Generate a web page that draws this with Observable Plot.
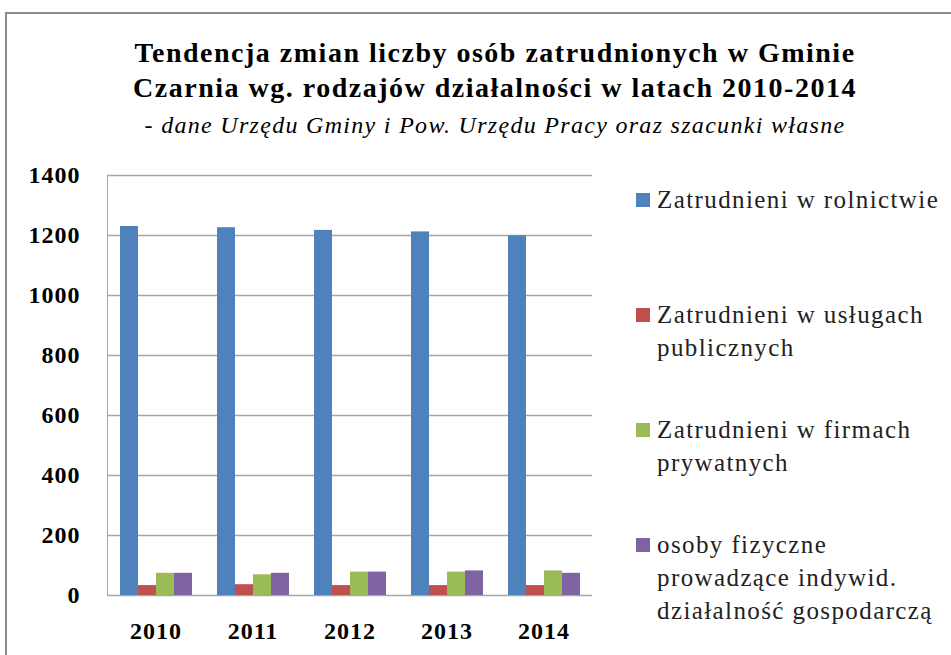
<!DOCTYPE html>
<html>
<head>
<meta charset="utf-8">
<script src="https://cdn.jsdelivr.net/npm/d3@7"></script>
<script src="https://cdn.jsdelivr.net/npm/@observablehq/plot@0.6"></script>
<style>
  html, body { margin: 0; padding: 0; background: #fff; overflow: hidden; }
  #root { position: relative; width: 951px; height: 655px; overflow: hidden; font-family: 'Liberation Serif', serif; }
  #border { position: absolute; left: 5px; top: 12px; width: 1100px; height: 800px; border: 2px solid #8c8c8c; box-sizing: border-box; }
  #title { position: absolute; left: 0; top: 35px; width: 990px; text-align: center; font-weight: bold; font-size: 28px; letter-spacing: 1.5px; line-height: 35px; color: #000; }
  #subtitle { position: absolute; left: 0; top: 112px; width: 990px; text-align: center; font-size: 24px; letter-spacing: 1.3px; color: #000; }
  #subtitle i { font-style: italic; }
  #chart { position: absolute; left: 0; top: 160px; color: #a6a6a6; }
  #chart svg text { fill: #000; font-family: 'Liberation Serif', serif; font-weight: bold; font-size: 24px; letter-spacing: 1px; }
  #legend { position: absolute; left: 636px; top: 0; font-size: 25px; letter-spacing: 1.4px; color: #222; }
  .item { position: absolute; left: 0; white-space: nowrap; line-height: 33px; }
  .sw { position: absolute; left: 0; top: 10px; width: 14px; height: 14px; }
  .lab { position: absolute; left: 21px; top: 0; }
</style>
</head>
<body>
<div id="root">
  <div id="border"></div>
  <div id="title"></div>
  <div id="subtitle"></div>
  <div id="chart"></div>
  <div id="legend"></div>
</div>
<script>
const titleLines = ["Tendencja zmian liczby osób zatrudnionych w Gminie", "Czarnia wg. rodzajów działalności w latach 2010-2014"];
const subtitleText = "dane Urzędu Gminy i Pow. Urzędu Pracy oraz szacunki własne";
const years = ["2010", "2011", "2012", "2013", "2014"];
const series = [
  "Zatrudnieni w rolnictwie",
  "Zatrudnieni w usługach publicznych",
  "Zatrudnieni w firmach prywatnych",
  "osoby fizyczne prowadzące indywid. działalność gospodarczą"
];
const legendLines = [
  ["Zatrudnieni w rolnictwie"],
  ["Zatrudnieni w usługach", "publicznych"],
  ["Zatrudnieni w firmach", "prywatnych"],
  ["osoby fizyczne", "prowadzące indywid.", "działalność gospodarczą"]
];
const colors = ["#4F81BD", "#C0504D", "#9BBB59", "#8064A2"];
const rolnictwo = [1230, 1226, 1217, 1212, 1199];
const uslugi = [33, 36, 33, 33, 33];
const firmy = [74, 69, 78, 78, 82];
const osoby = [74, 74, 78, 82, 74];
const yTicks = [0, 200, 400, 600, 800, 1000, 1200, 1400];

const values = [rolnictwo, uslugi, firmy, osoby];
const data = [];
years.forEach((y, i) => series.forEach((s, j) => data.push({year: y, series: s, value: values[j][i]})));

document.getElementById("title").innerHTML = titleLines.join("<br>");
document.getElementById("subtitle").innerHTML = "- <i>" + subtitleText + "</i>";

const chart = Plot.plot({
  width: 600,
  height: 495,
  marginLeft: 105,
  marginRight: 7,
  marginTop: 15,
  marginBottom: 60,
  style: {background: "transparent", overflow: "visible"},
  fx: {domain: years, padding: 0, label: null, axis: "bottom", tickSize: 0, tickPadding: 26},
  x: {domain: series, axis: null, paddingInner: 0, paddingOuter: 0.6},
  y: {domain: [0, 1400], ticks: yTicks, tickSize: 0, tickPadding: 27, label: null, line: true, tickFormat: d => String(d)},
  color: {domain: series, range: colors},
  marks: [
    Plot.ruleY(yTicks, {stroke: "#a6a6a6", strokeWidth: 1.3}),
    Plot.barY(data, {fx: "year", x: "series", y: "value", fill: "series"})
  ]
});
document.getElementById("chart").appendChild(chart);

const legend = document.getElementById("legend");
const tops = [183, 298, 413, 528];
legendLines.forEach((lines, i) => {
  const item = document.createElement("div");
  item.className = "item";
  item.style.top = tops[i] + "px";
  const sw = document.createElement("div");
  sw.className = "sw";
  sw.style.background = colors[i];
  const lab = document.createElement("div");
  lab.className = "lab";
  lab.innerHTML = lines.join("<br>");
  item.appendChild(sw);
  item.appendChild(lab);
  legend.appendChild(item);
});
</script>
</body>
</html>
